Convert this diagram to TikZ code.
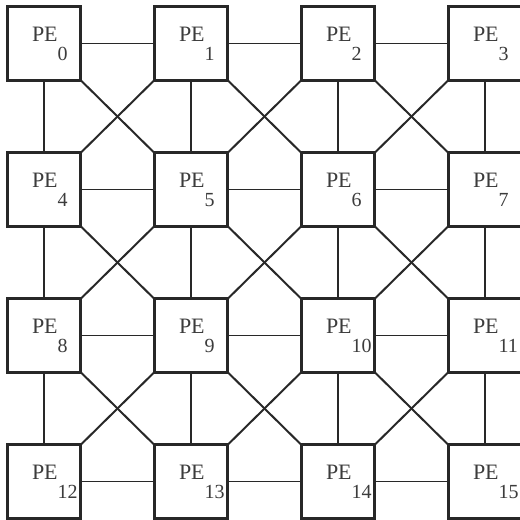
\documentclass[tikz,border=0pt]{standalone}
\usepackage{fontspec}
\setmainfont{Liberation Serif}
\usepackage{tikz}
\usetikzlibrary{positioning}
\definecolor{peink}{RGB}{40,40,40}
\definecolor{petext}{RGB}{60,60,60}
\newcommand{\pelab}[1]{\makebox[24pt][l]{PE\raisebox{-19pt}{\fontsize{20}{20}\selectfont #1}}}
\tikzset{
  pebox/.style={rectangle,draw=peink,fill=white,minimum size=73.5pt,inner sep=0pt,
    outer sep=0pt,line width=2.6pt,text=petext,font=\fontsize{22}{22}\selectfont},
  mesh/.style={line width=1.3pt,color=peink},
  diag/.style={line width=2pt,color=peink}
}

\begin{document}
\begin{tikzpicture}[node distance=72.5pt and 73.5pt]
  \clip (0,0) rectangle (520pt,-520pt);
  \node[pebox] (pe0) at (44pt,-43.5pt) {\pelab{0}};
  \node[pebox, right=of pe0] (pe1) {\pelab{1}};
  \node[pebox, right=of pe1] (pe2) {\pelab{2}};
  \node[pebox, right=of pe2] (pe3) {\pelab{3}};
  \node[pebox, below=of pe0] (pe4) {\pelab{4}};
  \node[pebox, right=of pe4] (pe5) {\pelab{5}};
  \node[pebox, right=of pe5] (pe6) {\pelab{6}};
  \node[pebox, right=of pe6] (pe7) {\pelab{7}};
  \node[pebox, below=of pe4] (pe8) {\pelab{8}};
  \node[pebox, right=of pe8] (pe9) {\pelab{9}};
  \node[pebox, right=of pe9] (pe10) {\pelab{10}};
  \node[pebox, right=of pe10] (pe11) {\pelab{11}};
  \node[pebox, below=of pe8] (pe12) {\pelab{12}};
  \node[pebox, right=of pe12] (pe13) {\pelab{13}};
  \node[pebox, right=of pe13] (pe14) {\pelab{14}};
  \node[pebox, right=of pe14] (pe15) {\pelab{15}};

  % row and column links
  \foreach \a/\b in {0/1,1/2,2/3,4/5,5/6,6/7,8/9,9/10,10/11,12/13,13/14,14/15}
    \draw[mesh] (pe\a.east) -- (pe\b.west);
  \foreach \a/\b in {0/4,4/8,8/12,1/5,5/9,9/13,2/6,6/10,10/14,3/7,7/11,11/15}
    \draw[mesh] (pe\a.south) -- (pe\b.north);

  % diagonal links
  \foreach \a/\b in {0/5,1/6,2/7,4/9,5/10,6/11,8/13,9/14,10/15}
    \draw[diag] (pe\a.south east) -- (pe\b.north west);
  \foreach \a/\b in {1/4,2/5,3/6,5/8,6/9,7/10,9/12,10/13,11/14}
    \draw[diag] (pe\a.south west) -- (pe\b.north east);
\end{tikzpicture}
\end{document}
